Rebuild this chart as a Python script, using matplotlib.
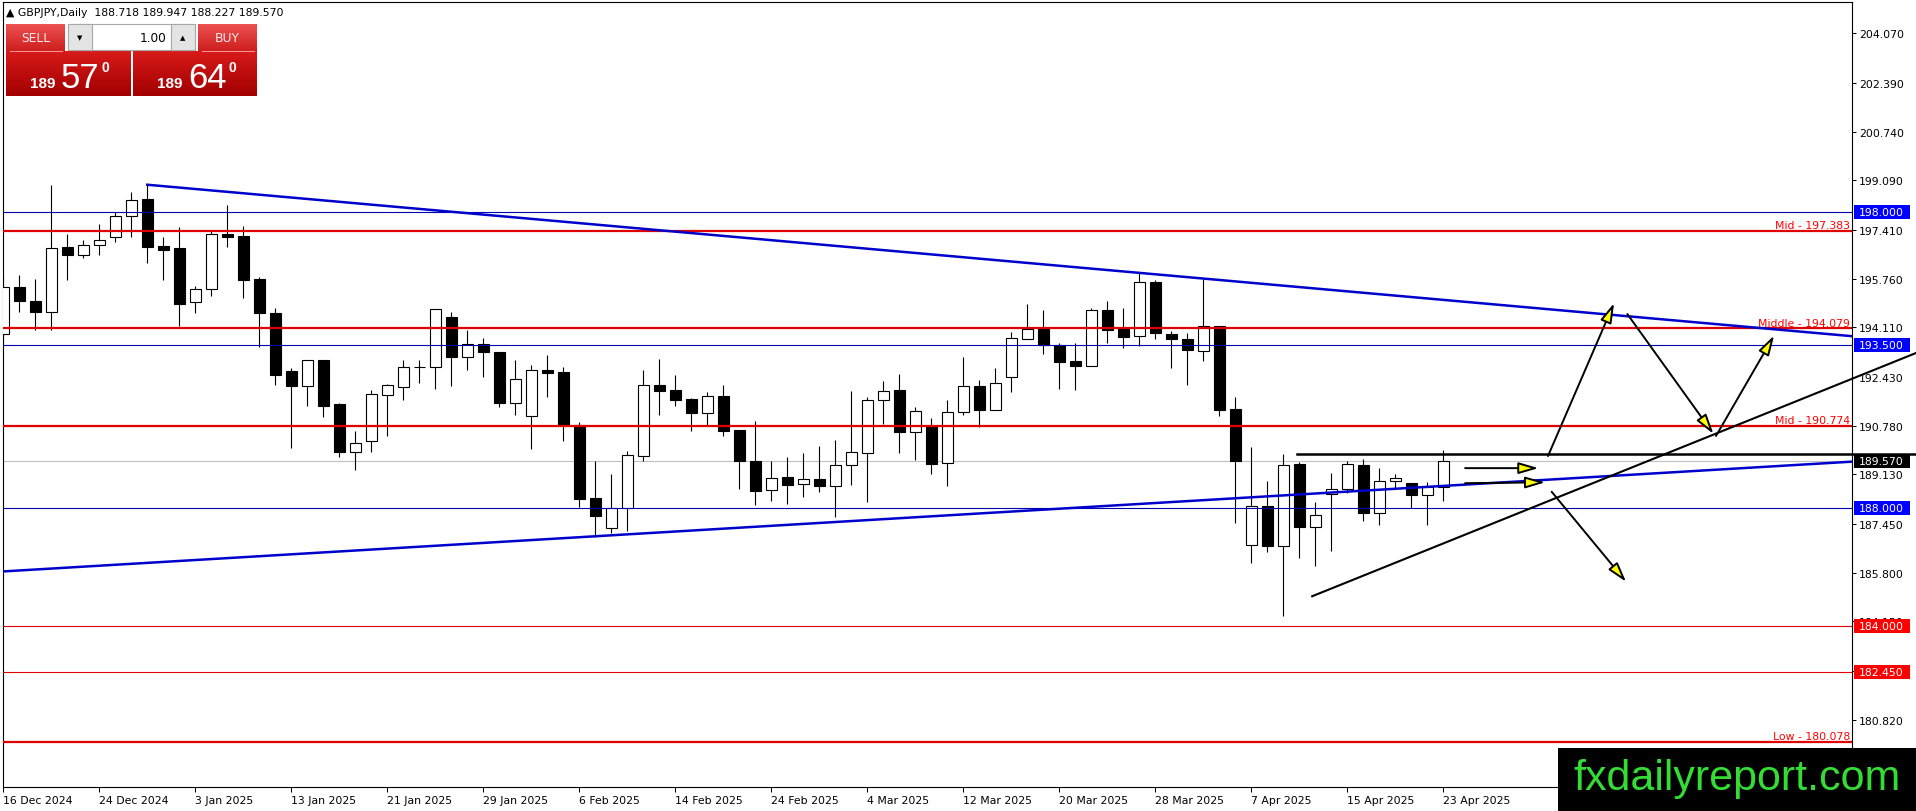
import numpy as np
import pandas as pd
import matplotlib
matplotlib.use("Agg")
import matplotlib.pyplot as plt
from matplotlib.patches import Rectangle, FancyArrowPatch
from matplotlib.transforms import blended_transform_factory
from matplotlib.colors import LinearSegmentedColormap

W, H = 1916, 812

# daily bars, 16 Dec 2024 .. 23 Apr 2025 (no bars on 25 Dec and 1 Jan)
dates = pd.bdate_range("2024-12-16", "2025-04-23")
dates = dates[~dates.isin(pd.to_datetime(["2024-12-25", "2025-01-01"]))]

opens = [193.88, 195.46, 195.01, 194.64, 196.82, 196.57, 196.91, 197.16, 197.89, 198.46,
         196.85, 196.79, 194.96, 195.40, 197.26, 197.19, 195.75, 194.60, 192.62, 192.11,
         192.99, 191.50, 189.90, 190.27, 191.83, 192.10, 192.76, 192.76, 194.45, 193.09,
         193.53, 193.26, 191.56, 191.12, 192.65, 192.59, 190.81, 188.32, 187.30, 187.98,
         189.74, 192.14, 191.99, 191.68, 191.22, 191.77, 190.63, 189.58, 188.60, 189.03,
         188.79, 188.96, 188.75, 189.46, 189.84, 191.64, 191.99, 190.58, 190.78, 189.50,
         191.23, 192.11, 191.32, 192.42, 193.70, 194.04, 193.50, 192.97, 192.81, 194.69,
         194.04, 193.80, 195.63, 193.87, 193.70, 193.31, 194.14, 191.34, 186.73, 188.05,
         186.69, 189.47, 187.33, 188.45, 188.62, 189.44, 187.81, 188.90, 188.83, 188.44,
         188.718]
highs = [195.88, 195.88, 195.75, 198.93, 197.27, 197.06, 197.61, 198.00, 198.68, 198.94,
         197.16, 197.50, 195.52, 197.42, 198.25, 197.53, 195.80, 194.75, 192.72, 192.99,
         192.99, 191.55, 190.59, 191.98, 192.18, 193.00, 193.00, 194.72, 194.62, 194.02,
         193.74, 193.26, 192.99, 192.82, 193.16, 192.75, 190.91, 189.57, 189.14, 189.91,
         192.66, 193.04, 192.50, 191.72, 191.91, 192.14, 190.63, 190.92, 189.58, 189.72,
         189.85, 190.09, 190.28, 191.94, 191.74, 192.29, 192.53, 191.41, 191.03, 191.64,
         193.10, 192.31, 192.73, 193.94, 194.90, 194.70, 193.58, 193.58, 194.75, 195.00,
         194.76, 195.95, 195.72, 193.99, 193.92, 195.75, 194.14, 191.76, 190.05, 188.89,
         189.82, 189.56, 188.18, 189.18, 189.58, 189.65, 189.34, 189.13, 188.83, 188.86,
         189.947]
lows = [193.62, 194.64, 194.03, 194.03, 195.72, 196.45, 196.57, 196.99, 197.18, 196.30,
        195.72, 194.17, 194.60, 195.18, 196.84, 195.09, 193.46, 192.17, 190.02, 191.46,
        191.06, 189.73, 189.29, 189.88, 190.44, 191.66, 192.24, 192.03, 192.13, 192.68,
        192.44, 191.42, 191.15, 190.00, 191.76, 190.27, 188.01, 187.02, 187.13, 187.22,
        189.59, 191.15, 191.46, 190.61, 190.81, 190.42, 188.63, 188.09, 188.22, 188.14,
        188.37, 188.54, 187.67, 188.78, 188.20, 190.83, 189.85, 189.62, 189.15, 188.75,
        191.15, 190.72, 191.30, 191.93, 193.70, 193.22, 192.02, 192.00, 192.79, 193.59,
        193.42, 193.47, 193.70, 192.72, 192.17, 192.96, 191.12, 187.49, 186.12, 186.51,
        184.34, 186.31, 186.04, 186.54, 188.50, 187.54, 187.43, 188.68, 187.98, 187.41,
        188.227]
closes = [195.46, 195.01, 194.64, 196.79, 196.57, 196.91, 197.06, 197.89, 198.43, 196.84,
          196.74, 194.90, 195.40, 197.26, 197.18, 195.72, 194.58, 192.51, 192.13, 192.99,
          191.46, 189.90, 190.18, 191.84, 192.15, 192.76, 192.76, 194.72, 193.12, 193.53,
          193.26, 191.56, 192.35, 192.65, 192.57, 190.81, 188.31, 187.73, 187.99, 189.77,
          192.14, 191.96, 191.66, 191.22, 191.77, 190.61, 189.57, 188.58, 188.99, 188.78,
          188.96, 188.75, 189.43, 189.88, 191.64, 191.94, 190.58, 191.26, 189.49, 191.23,
          192.11, 191.32, 192.21, 193.74, 194.04, 193.50, 192.95, 192.81, 194.69, 194.03,
          193.79, 195.63, 193.91, 193.70, 193.33, 194.17, 191.32, 189.57, 188.05, 186.69,
          189.44, 187.34, 187.74, 188.62, 189.47, 187.81, 188.89, 189.00, 188.44, 188.71,
          189.570]

# price scale labels (right side)
ytick_vals = [204.070, 202.390, 200.740, 199.090, 197.410, 195.760, 194.110, 192.430,
              190.780, 189.130, 187.450, 185.800, 184.150, 182.470, 180.820]
ytick_labels = ["%.3f" % v for v in ytick_vals]

# horizontal levels
red_levels = [197.383, 194.079, 190.774, 180.078]
red_names = ["Mid - 197.383", "Middle - 194.079", "Mid - 190.774", "Low - 180.078"]
red_thin_levels = [184.000, 182.450]
blue_levels = [198.000, 193.500, 188.000]
bid = 189.570
box_prices = [198.000, 193.500, 189.570, 188.000, 184.000, 182.450]
box_colors = ["#0000ff", "#0000ff", "#000000", "#0000ff", "#ff0000", "#ff0000"]

# drawn objects (bar index, price)
down_trend_x, down_trend_y = [9, 115.54], [198.94, 193.81]
up_trend_x, up_trend_y = [-0.05, 115.54], [185.84, 189.56]
black_trend_x, black_trend_y = [81.8, 119.54], [185.00, 193.24]
black_level_x, black_level_y = [80.84, 119.54], [189.83, 189.83]
arrows = [(91.36, 189.34, 95.94, 189.34),
          (91.36, 188.83, 96.36, 188.86),
          (96.54, 189.75, 100.67, 194.93),
          (101.50, 194.56, 106.88, 190.50),
          (107.04, 190.43, 110.67, 193.83),
          (96.77, 188.54, 101.42, 185.49)]

plt.rcParams["font.family"] = ["DejaVu Sans"]
fs = 7.8

fig = plt.figure(figsize=(W / 100, H / 100), dpi=100)
fig.patch.set_facecolor("white")
ax = fig.add_axes([2.5 / W, 1 - 788 / H, (1852 - 2.5) / W, (788 - 2.5) / H])
ax.set_xlim(-0.05, 115.54)
ax.set_ylim(178.539, 205.147)
for s in ax.spines.values():
    s.set_linewidth(0.8)
    s.set_color("black")

# levels
ax.axhline(bid, color="#c0c0c0", lw=0.8, zorder=2)
for lv in blue_levels:
    ax.axhline(lv, color="#0000b0", lw=0.8, zorder=5)
for lv in red_thin_levels:
    ax.axhline(lv, color="#e00000", lw=0.8, zorder=5)
for lv in red_levels:
    ax.axhline(lv, color="#e00000", lw=1.6, zorder=5)

bt = blended_transform_factory(ax.transAxes, ax.transData)
for lv, name in zip(red_levels, red_names):
    ax.text((1850 - 2.5) / 1849.5, lv + 0.02, name, transform=bt, ha="right", va="bottom",
            color="#ff0000", fontsize=fs, zorder=6)

# candles
idx = np.arange(len(opens))
o = np.array(opens)
c = np.array(closes)
ax.vlines(idx, lows, highs, color="black", lw=0.8, zorder=3)
bull = c >= o
ax.bar(idx[bull], (c - o)[bull], bottom=o[bull], width=0.66, color="white",
       edgecolor="black", lw=0.8, zorder=4)
ax.bar(idx[~bull], (o - c)[~bull], bottom=c[~bull], width=0.66, color="black",
       edgecolor="black", lw=0.8, zorder=4)

# trend lines
ax.plot(down_trend_x, down_trend_y, color="#0000cd", lw=1.8, zorder=6)
ax.plot(up_trend_x, up_trend_y, color="#0000cd", lw=1.8, zorder=6)
ax.plot(black_trend_x, black_trend_y, color="black", lw=1.5, zorder=6, clip_on=False)
ax.plot(black_level_x, black_level_y, color="black", lw=1.8, zorder=6, clip_on=False)

for x0, y0, x1, y1 in arrows:
    ax.add_patch(FancyArrowPatch((x0, y0), (x1, y1),
                                 arrowstyle="-|>,head_length=1.2,head_width=0.35",
                                 mutation_scale=10, shrinkA=0, shrinkB=0,
                                 lw=1.4, ec="black", fc="#ffff00", zorder=7))

# axes ticks
ax.yaxis.tick_right()
ax.set_yticks(ytick_vals)
ax.set_yticklabels(ytick_labels)
ax.tick_params(axis="y", right=True, left=False, length=2.9, width=0.72, pad=2,
               labelsize=fs, labelcolor="black")
xt = list(range(0, len(dates), 6))
ax.set_xticks(xt)
ax.set_xticklabels([f"{dates[i].day} {dates[i].strftime('%b %Y')}" for i in xt])
ax.tick_params(axis="x", length=3.6, width=0.72, pad=2, labelsize=fs)
for lab in ax.get_xticklabels():
    lab.set_horizontalalignment("left")

# price boxes on the scale
for p, col in zip(box_prices, box_colors):
    ax.add_patch(Rectangle(((1854 - 2.5) / 1849.5, p - 7 / 29.52), 56 / 1849.5, 14 / 29.52,
                           transform=bt, fc=col, ec="none", clip_on=False, zorder=10))
    ax.text((1859 - 2.5) / 1849.5, p, "%.3f" % p, transform=bt, ha="left", va="center",
            color="white", fontsize=fs, zorder=11, clip_on=False)

# overlay in pixel units for the trade panel and watermark
ov = fig.add_axes([0, 0, 1, 1], zorder=10)
ov.axis("off")


def grad_box(x0, y0, x1, y1, c_top, c_bot):
    cmap = LinearSegmentedColormap.from_list("g", [c_top, c_bot])
    ov.imshow(np.linspace(0, 1, 50).reshape(-1, 1), extent=(x0, x1, y1, y0), cmap=cmap,
              aspect="auto", interpolation="bilinear")


ov.text(6, 13, "\u25b2 GBPJPY,Daily  188.718 189.947 188.227 189.570", ha="left",
        va="center", fontsize=fs, color="black")

grad_box(6, 25, 65, 52, "#ec5050", "#cf1f1f")
grad_box(198, 25, 257, 52, "#ec5050", "#cf1f1f")
ov.plot([10, 62], [51.5, 51.5], color="#f59a9a", lw=0.7)
ov.plot([202, 254], [51.5, 51.5], color="#f59a9a", lw=0.7)
ov.text(35.5, 38.5, "SELL", ha="center", va="center", fontsize=8.8, color="#ffeaea")
ov.text(227.5, 38.5, "BUY", ha="center", va="center", fontsize=8.8, color="#ffeaea")
ov.add_patch(Rectangle((68, 25), 127, 26, fc="white", ec="#a8a8a8", lw=0.8))
ov.add_patch(Rectangle((68, 25), 24, 26, fc="#e4e4e4", ec="#a8a8a8", lw=0.8))
ov.add_patch(Rectangle((171, 25), 24, 26, fc="#e4e4e4", ec="#a8a8a8", lw=0.8))
ov.text(80, 38, "\u25bc", ha="center", va="center", fontsize=5, color="black")
ov.text(183, 38, "\u25b2", ha="center", va="center", fontsize=5, color="black")
ov.text(166, 38, "1.00", ha="right", va="center", fontsize=8.7, color="black")

grad_box(6, 52, 131, 97, "#d81a1a", "#a20000")
grad_box(133, 52, 257, 97, "#d81a1a", "#a20000")
for xs, big in [(30, "57"), (157, "64")]:
    ov.text(xs, 88, "189", ha="left", va="baseline", fontsize=11, fontweight="bold",
            family="Liberation Sans", color="white")
    ov.text(xs + 31, 88, big, ha="left", va="baseline", fontsize=25,
            family="Liberation Sans", color="white")
    ov.text(xs + 72, 72, "0", ha="left", va="baseline", fontsize=10, fontweight="bold",
            family="Liberation Sans", color="white")

ov.add_patch(Rectangle((1558, 749), W - 1558, H - 749, fc="black", ec="none"))
ov.text(1737, 790, "fxdailyreport.com", ha="center", va="baseline", fontsize=31,
        family="Liberation Sans", color="#33dd33")

ov.set_xlim(0, W)
ov.set_ylim(H, 0)

fig.savefig("out.png", dpi=100, facecolor="white")
